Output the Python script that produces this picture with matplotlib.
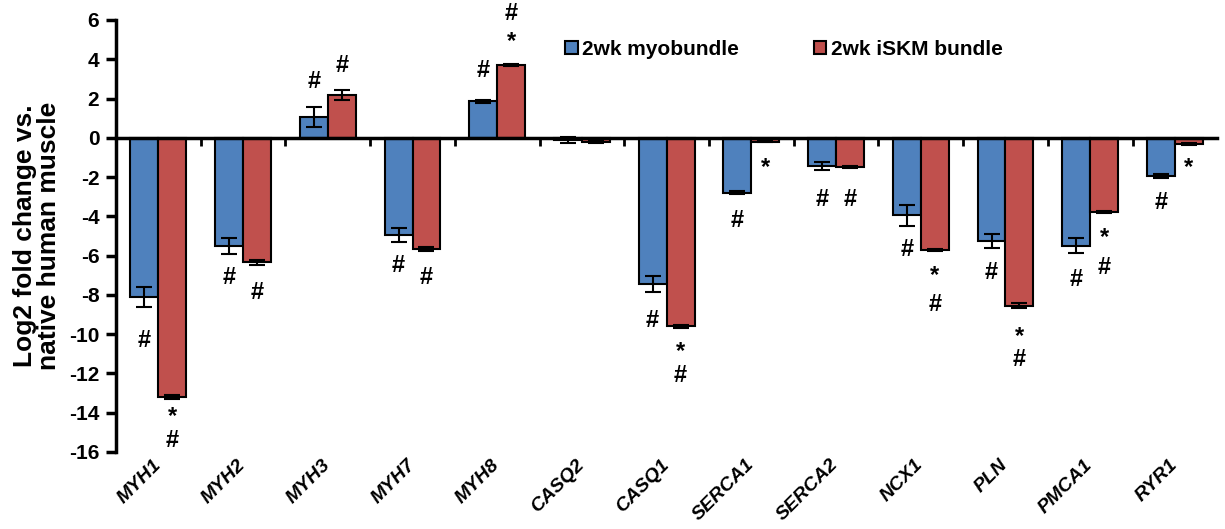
import numpy as np
import matplotlib
matplotlib.use("Agg")
import matplotlib.pyplot as plt
from matplotlib.transforms import ScaledTranslation

plt.rcParams['font.family'] = ['Liberation Sans', 'DejaVu Sans']
plt.rcParams['font.weight'] = 'bold'
plt.rcParams['axes.unicode_minus'] = False

# data
genes = ["MYH1", "MYH2", "MYH3", "MYH7", "MYH8", "CASQ2", "CASQ1",
         "SERCA1", "SERCA2", "NCX1", "PLN", "PMCA1", "RYR1"]
myobundle = [-8.1, -5.5, 1.05, -4.95, 1.85, -0.1, -7.45, -2.8, -1.45, -3.95, -5.25, -5.5, -1.95]
myobundle_err = [0.5, 0.4, 0.5, 0.35, 0.1, 0.15, 0.4, 0.07, 0.2, 0.53, 0.35, 0.38, 0.1]
iskm = [-13.2, -6.35, 2.2, -5.65, 3.7, -0.2, -9.6, -0.2, -1.5, -5.7, -8.55, -3.8, -0.3]
iskm_err = [0.1, 0.12, 0.25, 0.1, 0.05, 0.05, 0.07, 0.03, 0.05, 0.05, 0.12, 0.05, 0.05]

# significance marks: (gene index, series 0=myobundle 1=iSKM, y position, symbol)
marks = [
    (0, 0, -10.3, "#"), (0, 1, -14.2, "*"), (0, 1, -15.4, "#"),
    (1, 0, -7.1, "#"), (1, 1, -7.9, "#"),
    (2, 0, 2.85, "#"), (2, 1, 3.7, "#"),
    (3, 0, -6.5, "#"), (3, 1, -7.1, "#"),
    (4, 0, 3.45, "#"), (4, 1, 4.9, "*"), (4, 1, 6.35, "#"),
    (6, 0, -9.3, "#"), (6, 1, -10.9, "*"), (6, 1, -12.1, "#"),
    (7, 0, -4.2, "#"), (7, 1, -1.5, "*"),
    (8, 0, -3.15, "#"), (8, 1, -3.15, "#"),
    (9, 0, -5.7, "#"), (9, 1, -7.0, "*"), (9, 1, -8.5, "#"),
    (10, 0, -6.85, "#"), (10, 1, -10.1, "*"), (10, 1, -11.3, "#"),
    (11, 0, -7.2, "#"), (11, 1, -5.1, "*"), (11, 1, -6.6, "#"),
    (12, 0, -3.3, "#"), (12, 1, -1.5, "*"),
]

blue = "#4F81BD"
red = "#C0504D"

x = np.arange(len(genes))
w = 0.33

fig = plt.figure(figsize=(12.25, 5.29), dpi=100)
ax = fig.add_axes([0.0947, 0.1456, 0.899, 0.8166])

err_kw = dict(ecolor="black", capsize=6, elinewidth=1.5, capthick=1.5)
ax.bar(x - w / 2, myobundle, w, yerr=myobundle_err, color=blue, edgecolor="black",
       linewidth=1.5, error_kw=err_kw, label="2wk myobundle", zorder=2)
ax.bar(x + w / 2, iskm, w, yerr=iskm_err, color=red, edgecolor="black",
       linewidth=1.5, error_kw=err_kw, label="2wk iSKM bundle", zorder=2)

for i, s, yv, sym in marks:
    xp = x[i] + (w / 2 if s else -w / 2)
    ax.text(xp, yv, sym, ha="center", va="center", fontsize=17, fontweight="bold")

ax.set_xlim(-0.5, len(genes) - 0.5)
ax.set_ylim(-16, 6)
ax.set_yticks(np.arange(-16, 7, 2))
ax.tick_params(axis="y", labelsize=15, width=2.5, length=7, pad=5)
for lab in ax.get_yticklabels():
    lab.set_fontweight("bold")
ax.set_ylabel("Log2 fold change vs.\nnative human muscle", fontsize=19, fontweight="bold",
              labelpad=6, linespacing=1.0)

ax.spines["top"].set_visible(False)
ax.spines["right"].set_visible(False)
ax.spines["left"].set_linewidth(2.5)
ax.spines["bottom"].set_position(("data", 0))
ax.spines["bottom"].set_linewidth(2.5)
ax.spines["bottom"].set_zorder(3)
ax.set_xticks(np.arange(0.5, len(genes) - 0.5, 1))
ax.set_xticklabels([])
ax.tick_params(axis="x", direction="out", length=6, width=2)

sec = ax.secondary_xaxis(location=0)
sec.set_xticks(x)
sec.set_xticklabels(genes, rotation=45, ha="right", rotation_mode="anchor",
                    fontsize=14, fontweight="bold", fontstyle="italic")
sec.tick_params(length=0, pad=3)
sec.spines["bottom"].set_visible(False)
shift = ScaledTranslation(-6 / 100, 0, fig.dpi_scale_trans)
for lab in sec.get_xticklabels():
    lab.set_transform(lab.get_transform() + shift)

ax.legend(loc="upper left", bbox_to_anchor=(0.391, 0.997), ncol=2, frameon=False,
          prop=dict(size=15, weight="bold"), handlelength=0.6, handleheight=0.6,
          handletextpad=0.2, columnspacing=3.6)

fig.savefig("out.png", dpi=100)
